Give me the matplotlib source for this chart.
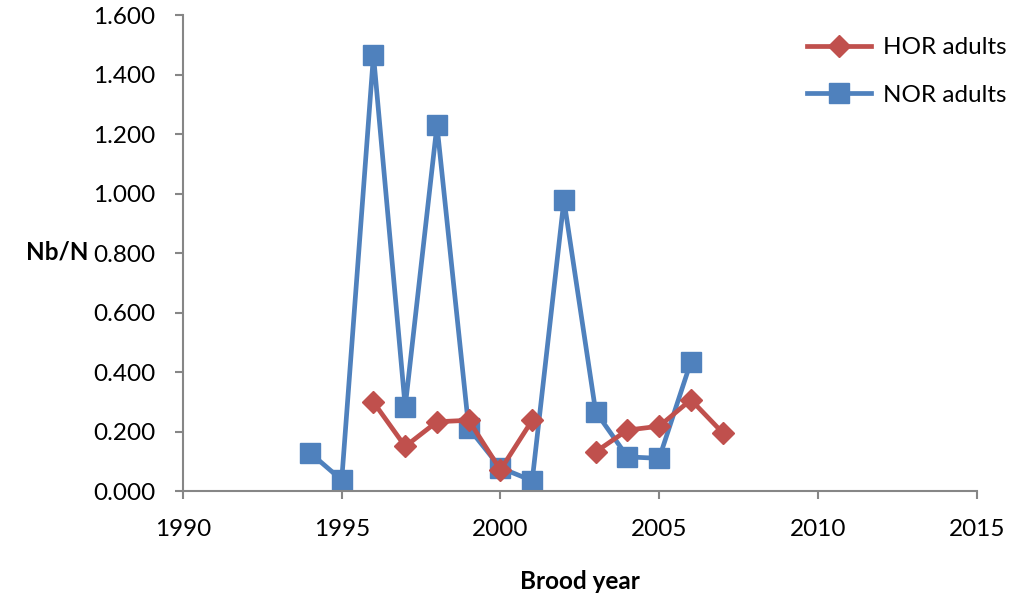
import numpy as np
import matplotlib.pyplot as plt

plt.rcParams['font.family'] = ['Lato', 'DejaVu Sans']

# data
hor_years = [1996, 1997, 1998, 1999, 2000, 2001, 2002, 2003, 2004, 2005, 2006, 2007]
hor_vals = [0.299, 0.150, 0.233, 0.238, 0.071, 0.238, np.nan, 0.132, 0.205, 0.218, 0.307, 0.196]

nor_years = [1994, 1995, 1996, 1997, 1998, 1999, 2000, 2001, 2002, 2003, 2004, 2005, 2006]
nor_vals = [0.129, 0.037, 1.466, 0.283, 1.230, 0.212, 0.078, 0.035, 0.978, 0.267, 0.115, 0.110, 0.435]

red = '#C0504D'
blue = '#4F81BD'
grey = '#868686'

fig = plt.figure(figsize=(10.11, 6.07), dpi=100)
ax = fig.add_axes([0.181, 0.191, 0.785, 0.784])

ax.plot(hor_years, hor_vals, color=red, lw=3.4, marker='D', ms=11.5,
        label='HOR adults', zorder=3)
ax.plot(nor_years, nor_vals, color=blue, lw=3.4, marker='s', ms=15,
        label='NOR adults', zorder=2)

ax.set_xlim(1990, 2015)
ax.set_ylim(0, 1.6)
ax.set_xticks(np.arange(1990, 2016, 5))
ax.set_yticks(np.arange(0, 1.61, 0.2))
ax.set_yticklabels(['%.3f' % v for v in np.arange(0, 1.61, 0.2)])

for s in ['top', 'right']:
    ax.spines[s].set_visible(False)
for s in ['left', 'bottom']:
    ax.spines[s].set_color(grey)
    ax.spines[s].set_linewidth(1.5)
ax.tick_params(colors=grey, labelcolor='black', labelsize=17.5, length=6, width=1.5)
ax.tick_params(axis='x', pad=14)
ax.tick_params(axis='y', pad=14)

ax.set_xlabel('Brood year', fontsize=17.5, fontweight='bold', labelpad=22)
ax.set_ylabel('Nb/N', fontsize=17.5, fontweight='bold', rotation=0, va='center', ha='center')
ax.yaxis.set_label_coords(-0.159, 0.502)

leg = ax.legend(loc='upper right', bbox_to_anchor=(1.065, 1.0), frameon=False,
                fontsize=17.5, handlelength=2.6, labelspacing=1.1, handletextpad=0.5)

fig.savefig('out.png', dpi=100)
